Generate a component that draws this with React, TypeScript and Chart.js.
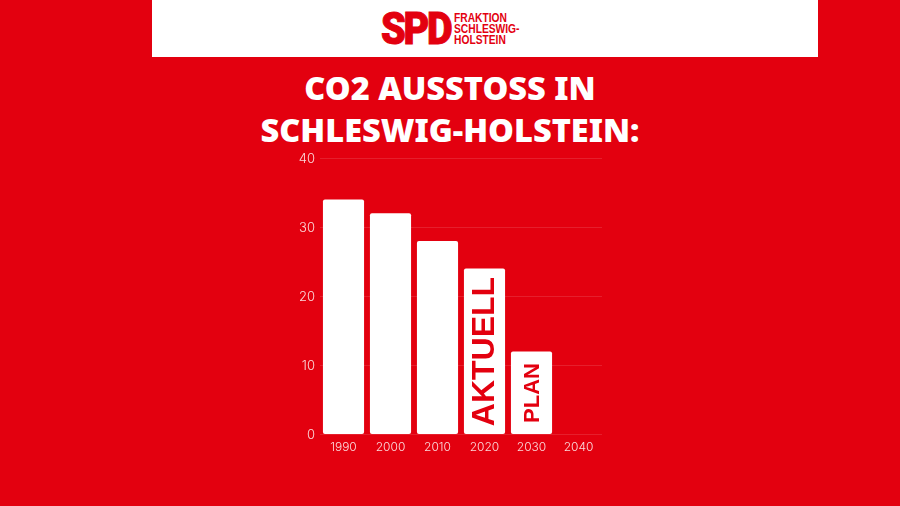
import { useEffect, useRef } from "react";
import { Chart, registerables } from "chart.js";

Chart.register(...registerables);

const years = ["1990", "2000", "2010", "2020", "2030", "2040"];
const emissions = [34, 32, 28, 24, 12, null];
const barLabels = ["", "", "", "AKTUELL", "PLAN", ""];
const barLabelSizes = [0, 0, 0, 32, 22, 0];

const RED = "#e3000f";

// rotated text inside the bars
const insideLabels = {
  id: "insideLabels",
  afterDatasetsDraw(chart: Chart) {
    const { ctx } = chart;
    chart.getDatasetMeta(0).data.forEach((bar: any, i: number) => {
      if (!barLabels[i]) return;
      const base = chart.scales.y.getPixelForValue(0);
      ctx.save();
      ctx.translate(bar.x, (bar.y + base) / 2);
      ctx.rotate(-Math.PI / 2);
      ctx.fillStyle = RED;
      ctx.font = `bold ${barLabelSizes[i]}px "Liberation Sans"`;
      ctx.textAlign = "center";
      ctx.textBaseline = "middle";
      ctx.fillText(barLabels[i], 0, 1);
      ctx.restore();
    });
  },
};

export default function App() {
  const canvasRef = useRef<HTMLCanvasElement | null>(null);

  useEffect(() => {
    if (!canvasRef.current) return;
    const chart = new Chart(canvasRef.current, {
      type: "bar",
      data: {
        labels: years,
        datasets: [
          {
            data: emissions,
            backgroundColor: "#ffffff",
            borderRadius: 2,
            borderSkipped: false,
            categoryPercentage: 1,
            barPercentage: 0.875,
          },
        ],
      },
      options: {
        responsive: false,
        animation: false,
        layout: { padding: { top: 158, right: 298, left: 0, bottom: 0 } },
        plugins: {
          legend: { display: false },
          tooltip: { enabled: false },
        },
        scales: {
          x: {
            afterFit: (scale: any) => {
              scale.height = 71.5;
            },
            grid: { display: false },
            border: { display: false },
            ticks: {
              color: "rgba(255,255,255,0.85)",
              font: { family: "Inter", size: 12, weight: "300" },
              padding: -2,
              maxRotation: 0,
            },
          },
          y: {
            min: 0,
            max: 40,
            afterFit: (scale: any) => {
              scale.width = 320;
            },
            grid: { color: "rgba(255,255,255,0.12)", drawTicks: false },
            border: { display: false },
            ticks: {
              stepSize: 10,
              color: "rgba(255,255,255,0.85)",
              font: { family: "Inter", size: 13, weight: "300" },
              padding: 5,
              labelOffset: 1,
            },
          },
        },
      },
      plugins: [insideLabels],
    });
    return () => chart.destroy();
  }, []);

  return (
    <div style={{ position: "absolute", left: 0, top: 0, width: 900, height: 506, background: RED, overflow: "hidden" }}>
      <div style={{ position: "absolute", left: 152, top: 0, width: 666, height: 57, background: "#fff" }} />
      <div
        style={{
          position: "absolute",
          left: 381,
          top: 5,
          fontFamily: "Roboto",
          fontWeight: 900,
          fontSize: 44,
          lineHeight: "48px",
          letterSpacing: -2.5,
          color: RED,
          WebkitTextStroke: `1px ${RED}`,
          transform: "scaleX(0.9)",
          transformOrigin: "left top",
        }}
      >
        SPD
      </div>
      <div
        style={{
          position: "absolute",
          left: 454,
          top: 13,
          fontFamily: "Liberation Sans",
          fontWeight: 700,
          fontSize: 12.5,
          lineHeight: "10.8px",
          color: RED,
          whiteSpace: "nowrap",
          transform: "scaleX(0.82)",
          transformOrigin: "left top",
        }}
      >
        FRAKTION
        <br />
        SCHLESWIG-
        <br />
        HOLSTEIN
      </div>
      <div
        style={{
          position: "absolute",
          left: 0,
          top: 67,
          width: 900,
          textAlign: "center",
          fontFamily: "Noto Sans",
          fontWeight: 900,
          fontSize: 32.5,
          lineHeight: "42px",
          color: "#fff",
        }}
      >
        CO2 AUSSTOSS IN
        <br />
        SCHLESWIG-HOLSTEIN:
      </div>
      <canvas ref={canvasRef} width={900} height={506} style={{ position: "absolute", left: 0, top: 0 }} />
    </div>
  );
}
